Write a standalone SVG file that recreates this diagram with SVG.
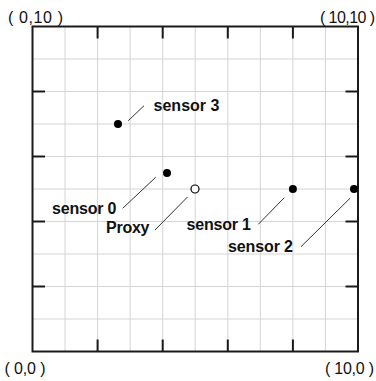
<svg xmlns="http://www.w3.org/2000/svg" width="376" height="381" viewBox="0 0 376 381">
  <style>
    .grid { stroke: #d4d4d4; stroke-width: 1; fill: none; }
    .frame { stroke: #1a1a1a; stroke-width: 2; fill: none; }
    .tick { stroke: #1a1a1a; stroke-width: 2; }
    .corner { font-family: "Liberation Sans", Arial, sans-serif; font-size: 16px; fill: #111; }
    .lbl { font-family: "Liberation Sans", Arial, sans-serif; font-size: 16px; font-weight: bold; fill: #111; }
    .lead { stroke: #333; stroke-width: 1; fill: none; }
    .dot { fill: #000; }
    .proxy { fill: #fff; stroke: #000; stroke-width: 1.2; }
  </style>
  <rect width="376" height="381" fill="#fff"/>
  <g id="grid">
    <path class="grid" d="M65,26.5V351.5 M97.6,26.5V351.5 M130.1,26.5V351.5 M162.7,26.5V351.5 M195.2,26.5V351.5 M227.8,26.5V351.5 M260.3,26.5V351.5 M292.9,26.5V351.5 M325.4,26.5V351.5
      M32.5,59H358 M32.5,91.5H358 M32.5,124H358 M32.5,156.5H358 M32.5,189H358 M32.5,221.5H358 M32.5,254H358 M32.5,286.5H358 M32.5,319H358"/>
    <rect class="frame" x="32.5" y="26.5" width="325.5" height="325"/>
    <path class="tick" d="M97.6,26.5V38.5 M162.7,26.5V38.5 M227.8,26.5V38.5 M292.9,26.5V38.5
      M97.6,351.5V339.5 M162.7,351.5V339.5 M227.8,351.5V339.5 M292.9,351.5V339.5
      M32.5,91.5H45 M32.5,156.5H45 M32.5,221.5H45 M32.5,286.5H45
      M358,91.5H345.5 M358,156.5H345.5 M358,221.5H345.5 M358,286.5H345.5"/>
  </g>
  <g id="corners">
    <text class="corner" x="8" y="23" textLength="55">( 0,10 )</text>
    <text class="corner" x="320" y="23" textLength="55">( 10,10 )</text>
    <text class="corner" x="4.5" y="374" textLength="41">( 0,0 )</text>
    <text class="corner" x="325" y="374" textLength="49">( 10,0 )</text>
  </g>
  <g id="connectors">
    <line class="lead" x1="128.3" y1="120.7" x2="144" y2="105.7"/>
    <line class="lead" x1="155.7" y1="177.3" x2="122.7" y2="208.3"/>
    <line class="lead" x1="155" y1="230" x2="187.5" y2="197"/>
    <line class="lead" x1="258.3" y1="224.3" x2="284.3" y2="197.7"/>
    <line class="lead" x1="301" y1="246.7" x2="350" y2="198.3"/>
  </g>
  <g id="sensor3">
    <circle class="dot" cx="118" cy="124" r="4"/>
    <text class="lbl" x="153.5" y="110.5" textLength="66">sensor 3</text>
  </g>
  <g id="sensor0">
    <circle class="dot" cx="167" cy="173" r="4"/>
    <text class="lbl" x="52" y="213.5" textLength="64.5">sensor 0</text>
  </g>
  <g id="proxy">
    <circle class="proxy" cx="195" cy="189" r="4"/>
    <text class="lbl" x="106" y="232.5" textLength="43.5">Proxy</text>
  </g>
  <g id="sensor1">
    <circle class="dot" cx="292.9" cy="189" r="4"/>
    <text class="lbl" x="186.5" y="230" textLength="64.5">sensor 1</text>
  </g>
  <g id="sensor2">
    <circle class="dot" cx="354" cy="189" r="4"/>
    <text class="lbl" x="228" y="251.7" textLength="65">sensor 2</text>
  </g>
</svg>
